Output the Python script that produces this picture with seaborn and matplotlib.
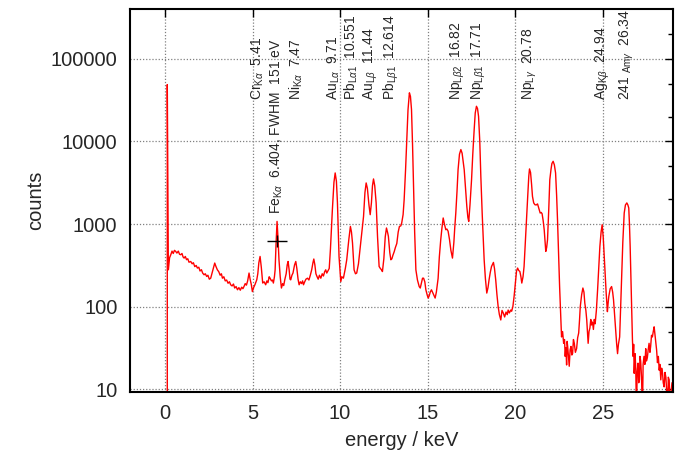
import matplotlib
matplotlib.use("Agg")
import matplotlib.pyplot as plt
import matplotlib.ticker as mticker
import numpy as np
import pandas as pd
import seaborn as sns

# ---- spectrum: energy (keV) and counts per channel ----
energy_kev = [
    0.13, 0.13, 0.19, 0.26, 0.33, 0.40, 0.47, 0.54, 0.61, 0.68, 0.76, 0.83, 0.90, 0.97,
    1.03, 1.09, 1.16, 1.23, 1.30, 1.37, 1.47, 1.55, 1.62, 1.70, 1.78, 1.85, 1.93, 2.00,
    2.08, 2.15, 2.23, 2.30, 2.38, 2.45, 2.53, 2.61, 2.70, 2.78, 2.84, 2.90, 2.99, 3.07,
    3.15, 3.22, 3.28, 3.36, 3.44, 3.52, 3.60, 3.68, 3.75, 3.83, 3.91, 3.98, 4.06, 4.14,
    4.22, 4.30, 4.38, 4.45, 4.51, 4.58, 4.65, 4.72, 4.80, 4.86, 4.93, 4.99, 5.06, 5.14,
    5.24, 5.30, 5.36, 5.43, 5.50, 5.58, 5.66, 5.75, 5.82, 5.88, 5.95, 6.00, 6.08, 6.14,
    6.19, 6.25, 6.29, 6.34, 6.40, 6.46, 6.51, 6.58, 6.65, 6.72, 6.78, 6.84, 6.92, 6.98,
    7.03, 7.09, 7.14, 7.18, 7.25, 7.31, 7.40, 7.47, 7.53, 7.60, 7.66, 7.73, 7.80, 7.86,
    7.91, 7.98, 8.05, 8.14, 8.22, 8.30, 8.38, 8.45, 8.50, 8.56, 8.62, 8.68, 8.75, 8.82,
    8.90, 8.98, 9.05, 9.12, 9.18, 9.24, 9.30, 9.38, 9.45, 9.56, 9.65, 9.72, 9.79, 9.85,
    9.94, 10.04, 10.10, 10.19, 10.30, 10.38, 10.50, 10.59, 10.65, 10.71, 10.80, 10.88,
    10.95, 11.05, 11.18, 11.26, 11.34, 11.42, 11.49, 11.56, 11.65, 11.72, 11.79, 11.85,
    11.91, 11.98, 12.06, 12.14, 12.23, 12.30, 12.36, 12.42, 12.50, 12.58, 12.65, 12.72,
    12.76, 12.84, 12.90, 12.96, 13.02, 13.09, 13.16, 13.24, 13.32, 13.39, 13.47, 13.52,
    13.60, 13.66, 13.74, 13.81, 13.88, 13.96, 14.02, 14.08, 14.14, 14.19, 14.26, 14.33,
    14.42, 14.52, 14.58, 14.65, 14.71, 14.77, 14.84, 14.90, 14.97, 15.03, 15.09, 15.15,
    15.22, 15.28, 15.35, 15.43, 15.50, 15.60, 15.67, 15.75, 15.82, 15.89, 15.96, 16.04,
    16.10, 16.17, 16.25, 16.33, 16.42, 16.50, 16.55, 16.61, 16.68, 16.74, 16.82, 16.90,
    16.97, 17.04, 17.09, 17.16, 17.24, 17.30, 17.35, 17.42, 17.51, 17.58, 17.66, 17.72,
    17.79, 17.85, 17.91, 17.98, 18.04, 18.12, 18.23, 18.30, 18.38, 18.45, 18.51, 18.58,
    18.65, 18.72, 18.76, 18.82, 18.89, 18.96, 19.03, 19.10, 19.18, 19.25, 19.33, 19.40,
    19.48, 19.55, 19.60, 19.67, 19.75, 19.80, 19.87, 19.94, 20.02, 20.08, 20.14, 20.20,
    20.27, 20.33, 20.38, 20.45, 20.51, 20.58, 20.65, 20.72, 20.78, 20.82, 20.88, 20.94,
    20.99, 21.06, 21.13, 21.20, 21.28, 21.35, 21.43, 21.49, 21.54, 21.60, 21.66, 21.71,
    21.75, 21.80, 21.85, 21.92, 21.98, 22.05, 22.10, 22.17, 22.24, 22.31, 22.37, 22.42,
    22.48, 22.54, 22.60, 22.65, 22.71, 22.77, 22.82, 22.86, 22.90, 22.94, 22.97, 23.00,
    23.05, 23.09, 23.14, 23.19, 23.24, 23.28, 23.33, 23.38, 23.44, 23.51, 23.57, 23.63,
    23.68, 23.72, 23.80, 23.87, 23.93, 23.98, 24.04, 24.09, 24.13, 24.17, 24.22, 24.27,
    24.32, 24.36, 24.42, 24.47, 24.52, 24.57, 24.64, 24.71, 24.78, 24.84, 24.91, 24.97,
    25.03, 25.09, 25.15, 25.20, 25.27, 25.31, 25.35, 25.43, 25.51, 25.57, 25.62, 25.68,
    25.75, 25.80, 25.85, 25.90, 25.97, 26.02, 26.08, 26.15, 26.23, 26.30, 26.38, 26.44,
    26.49, 26.53, 26.57, 26.62, 26.66, 26.70, 26.74, 26.77, 26.80, 26.85, 26.89, 26.93,
    26.97, 27.02, 27.06, 27.10, 27.13, 27.17, 27.22, 27.27, 27.31, 27.36, 27.41, 27.46,
    27.50, 27.55, 27.60, 27.65, 27.70, 27.74, 27.79, 27.84, 27.89, 27.94, 27.99, 28.04,
    28.08, 28.13, 28.18, 28.23, 28.27, 28.32, 28.37, 28.42, 28.46, 28.51, 28.56, 28.61,
    28.65, 28.70, 28.75, 28.80, 28.85, 28.90, 28.96,
]

counts = [
    1, 48700, 279, 390, 425, 470, 440, 480, 466, 445, 470, 430, 425, 440,
    400, 387, 405, 370, 380, 345, 352, 330, 340, 305, 315, 293, 300, 270,
    280, 255, 243, 250, 232, 240, 215, 221, 260, 300, 337, 310, 279, 265,
    240, 250, 221, 230, 205, 210, 192, 200, 184, 178, 188, 168, 175, 160,
    170, 158, 172, 165, 175, 190, 182, 205, 255, 215, 185, 152, 170, 185,
    211, 250, 340, 405, 300, 193, 200, 184, 205, 195, 230, 221, 205, 210,
    193, 230, 279, 560, 1075, 640, 369, 230, 168, 190, 180, 211, 250, 320,
    352, 280, 215, 211, 240, 255, 320, 352, 290, 215, 184, 200, 190, 205,
    184, 200, 215, 221, 210, 240, 280, 340, 377, 320, 250, 232, 215, 240,
    221, 250, 235, 265, 279, 255, 270, 290, 500, 1490, 3200, 4150, 3300, 1800,
    405, 201, 230, 221, 290, 369, 650, 935, 800, 589, 279, 250,
    255, 330, 589, 850, 1235, 2400, 3140, 2700, 1700, 1297, 1800, 2900,
    3510, 2900, 1800, 700, 306, 290, 280, 266, 380, 700, 895, 780,
    708, 450, 369, 380, 420, 461, 520, 581, 800, 935, 950, 1029,
    1300, 1970, 4500, 10500, 24000, 38700, 35000, 24300, 9000, 3440, 800, 279,
    210, 175, 168, 195, 221, 221, 200, 160, 140, 127, 135, 150,
    160, 150, 140, 127, 150, 220, 400, 646, 900, 1183, 1000, 853,
    870, 820, 650, 480, 387, 600, 900, 1358, 2500, 4550, 7000, 7960,
    7200, 5500, 4550, 2800, 1633, 1200, 1075, 1700, 3440, 7000, 13900, 22000,
    26600, 25000, 20100, 10000, 3780, 1300, 369, 220, 146, 170, 211, 260,
    306, 330, 343, 290, 211, 140, 100, 80, 69, 90, 83, 75,
    86, 80, 91, 84, 91, 88, 100, 133, 200, 270, 293, 275,
    266, 230, 193, 230, 306, 600, 1128, 2200, 3800, 4640, 4200, 3000,
    2160, 1800, 1713, 1700, 1750, 1550, 1358, 1380, 1330, 1100, 853, 600,
    466, 520, 646, 1500, 3440, 4600, 5400, 5740, 5200, 4150, 2200, 1128,
    450, 175, 80, 43, 50, 36, 40, 25, 32, 19.7, 38, 33,
    24, 19, 30, 33, 26, 27, 40, 36, 28, 31, 42, 48,
    70, 100, 140, 168, 150, 110, 90, 69, 50, 36, 50, 55,
    70, 60, 65, 53, 70, 62, 90, 160, 300, 535, 800, 980,
    700, 405, 230, 146, 87, 110, 133, 165, 175, 150, 121, 80,
    48, 35, 27, 35, 43, 90, 211, 600, 1358, 1700, 1800, 1700,
    1563, 1000, 535, 200, 83, 40, 25, 35, 15.6, 27, 18, 5,
    16, 20.7, 12, 13, 25, 22, 14, 5, 20, 25, 20, 31,
    22, 24, 30, 36, 28, 33, 45, 43, 50, 57, 45, 36,
    30, 21, 25, 17, 20, 13, 18, 15.6, 12, 10.7, 16, 14,
    10, 5, 14, 13, 5, 9, 12,
]

# ---- line identifications ----
line_labels = [
    r'Cr$_{\mathrm{K}\alpha}$  5.41',
    r'Fe$_{\mathrm{K}\alpha}$  6.404, FWHM  151 eV',
    r'Ni$_{\mathrm{K}\alpha}$  7.47',
    r'Au$_{\mathrm{L}\alpha}$  9.71',
    r'Pb$_{\mathrm{L}\alpha 1}$  10.551',
    r'Au$_{\mathrm{L}\beta}$  11.44',
    r'Pb$_{\mathrm{L}\beta 1}$  12.614',
    r'Np$_{\mathrm{L}\beta 2}$  16.82',
    r'Np$_{\mathrm{L}\beta 1}$  17.71',
    r'Np$_{\mathrm{L}\gamma}$  20.78',
    r'Ag$_{\mathrm{K}\beta}$  24.94',
    r'241 ${}_{\mathrm{Am}\gamma}$  26.34',
]
label_x = [5.51, 6.61, 7.75, 9.85, 10.9, 11.94, 13.09, 16.86, 18.1, 21.0, 25.18, 26.51]
label_y = [32000, 1330, 32000, 32000, 32000, 32000, 32000, 32000, 32000, 32000, 32000, 32000]

# Fe K-alpha resolution marker
fe_energy = 6.404
marker_level = 628
marker_halfspan = 0.59

x_ticks = [0, 5, 10, 15, 20, 25]
y_ticks = [10, 100, 1000, 10000, 100000]
y_tick_labels = ['10', '100', '1000', '10000', '100000']

sns.set_style("white")
plt.rcParams['font.family'] = ['Liberation Sans', 'DejaVu Sans']
plt.rcParams['mathtext.fontset'] = 'custom'
plt.rcParams['mathtext.rm'] = 'Liberation Sans'
plt.rcParams['mathtext.it'] = 'Liberation Sans:italic'
plt.rcParams['mathtext.sf'] = 'Liberation Sans'

fig = plt.figure(figsize=(6.78, 4.58), dpi=100)
ax = fig.add_axes([130 / 678, 1 - 391.5 / 458, (672.7 - 130) / 678, (391.5 - 9) / 458])

df = pd.DataFrame({"energy": energy_kev, "counts": counts})
sns.lineplot(data=df, x="energy", y="counts", estimator=None, sort=False,
             color="#ff0000", linewidth=1.0, ax=ax)

ax.set_yscale("log")
ax.set_xlim(-2, 29)
ax.set_ylim(9.4, 4.0e5)

ax.set_xticks(x_ticks)
ax.xaxis.set_minor_locator(mticker.NullLocator())
ax.set_yticks(y_ticks)
ax.set_yticklabels(y_tick_labels)
ax.yaxis.set_minor_locator(mticker.LogLocator(base=10, subs=(2.0, 5.0)))
ax.yaxis.set_minor_formatter(mticker.NullFormatter())

ax.tick_params(which='both', direction='in', top=True, right=True,
               labelsize=14.5, color='black', width=1.0)
ax.tick_params(which='major', length=6, pad=9)
ax.tick_params(which='minor', length=3.5)

ax.grid(True, which='major', color='#808080', linestyle=(0, (1, 1.5)), linewidth=0.9)
for s in ax.spines.values():
    s.set_linewidth(1.5)
    s.set_color('black')

ax.set_xlabel("energy / keV", fontsize=14.5, labelpad=6)
ax.set_ylabel("counts", fontsize=14.5, labelpad=4)

# resolution marker on the Fe line: horizontal bar with a centre tick
ax.errorbar([fe_energy], [marker_level], xerr=[marker_halfspan], fmt='|',
            color='black', markersize=8, markeredgewidth=1.0,
            elinewidth=1.0, capsize=0)

for txt, xv, yv in zip(line_labels, label_x, label_y):
    ax.text(xv, yv, txt, rotation=90, rotation_mode='anchor', ha='left',
            va='baseline', fontsize=10)

fig.savefig("out.png", dpi=100)
